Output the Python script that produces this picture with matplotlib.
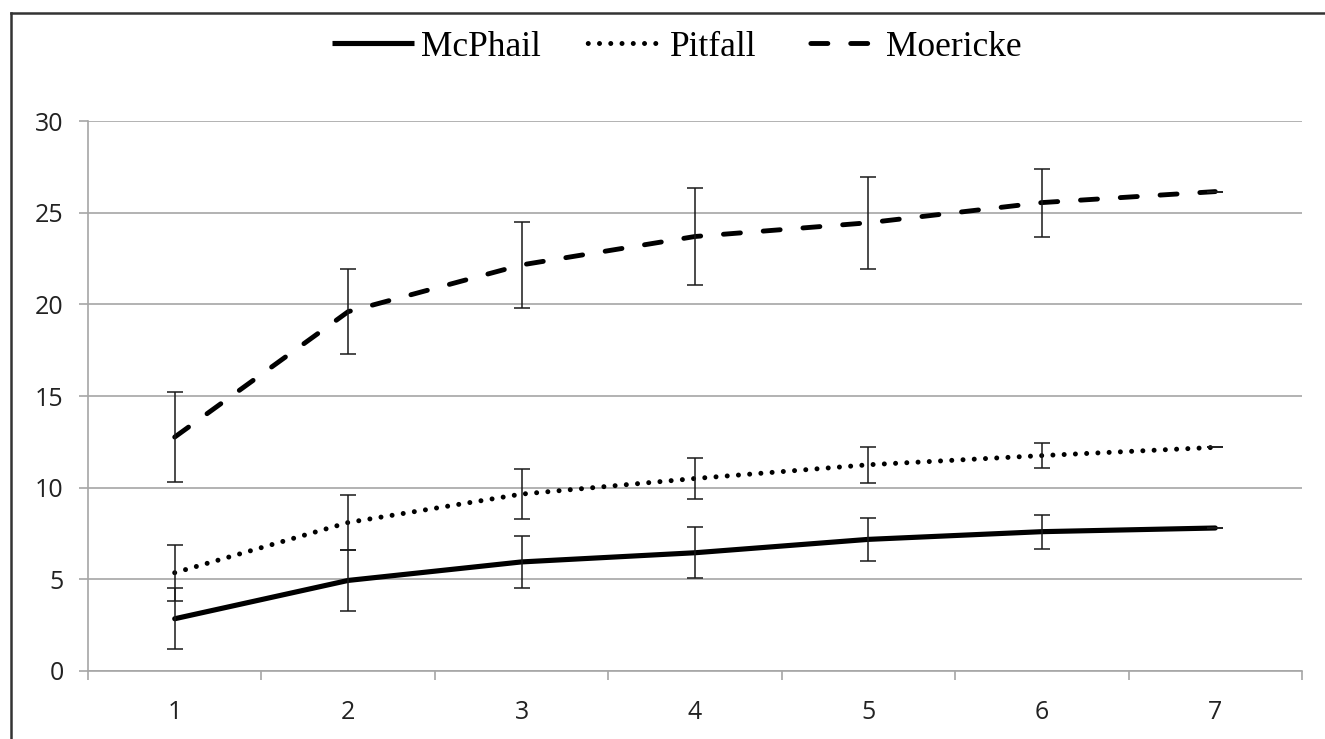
import numpy as np
import matplotlib
matplotlib.use('Agg')
import matplotlib.pyplot as plt
from matplotlib.lines import Line2D

# trap counts per sampling round
rounds = [1, 2, 3, 4, 5, 6, 7]
mcphail = [2.85, 4.94, 5.95, 6.45, 7.18, 7.6, 7.8]
mcphail_err = [1.67, 1.65, 1.4, 1.4, 1.18, 0.92, 0]
pitfall = [5.36, 8.1, 9.65, 10.5, 11.25, 11.75, 12.2]
pitfall_err = [1.53, 1.5, 1.38, 1.14, 0.98, 0.68, 0]
moericke = [12.76, 19.6, 22.15, 23.7, 24.45, 25.55, 26.15]
moericke_err = [2.45, 2.33, 2.35, 2.65, 2.5, 1.85, 0]

yticks = [0, 5, 10, 15, 20, 25, 30]

fig = plt.figure(figsize=(13.25, 7.39), dpi=100)
ax = fig.add_axes([88/1325, 1 - 671/739, (1302 - 88)/1325, (671 - 121)/739])

grid_col = '#a6a6a6'
err_col = '#1a1a1a'

dot_style = (0, (0.001, 2.25))
dash_style = (0, (3.5, 4.7))

# error bars first, lines on top
for vals, errs in [(mcphail, mcphail_err), (pitfall, pitfall_err), (moericke, moericke_err)]:
    ax.errorbar(rounds, vals, yerr=errs, fmt='none', ecolor=err_col,
                elinewidth=1.1, capsize=6, capthick=1.1, zorder=4)

ax.plot(rounds, mcphail, color='black', lw=3.7, solid_capstyle='round', zorder=3)
ax.plot(rounds, pitfall, color='black', lw=3.6, linestyle=dot_style,
        dash_capstyle='round', zorder=3)
ax.plot(rounds, moericke, color='black', lw=3.5, linestyle=dash_style,
        dash_capstyle='round', zorder=3)

ax.set_xlim(0.5, 7.5)
ax.set_ylim(0, 30)
ax.set_yticks(yticks)
ax.set_xticks(rounds)
ax.set_xticks(np.arange(0.5, 8.0, 1.0), minor=True)

ax.grid(axis='y', color=grid_col, lw=1.2)
ax.set_axisbelow(True)
for s in ['top', 'right']:
    ax.spines[s].set_visible(False)
for s in ['left', 'bottom']:
    ax.spines[s].set_color(grid_col)
    ax.spines[s].set_linewidth(1.2)

ax.tick_params(axis='x', which='major', length=0, pad=21, labelsize=18,
               labelcolor='#222222')
ax.tick_params(axis='x', which='minor', length=6.5, width=1.2, color=grid_col,
               direction='out')
ax.tick_params(axis='y', length=6.5, width=1.2, color=grid_col, pad=11,
               labelsize=18, labelcolor='#222222')
for lab in ax.get_xticklabels() + ax.get_yticklabels():
    lab.set_fontfamily('Open Sans')

# legend keys like Excel's: two dashes with gaps on both sides
handles = [
    Line2D([], [], color='black', lw=3.7, solid_capstyle='butt'),
    Line2D([], [], color='black', lw=3.6, linestyle=(1.1, (0.001, 2.25)),
           dash_capstyle='round'),
    Line2D([], [], color='black', lw=3.5, linestyle=(5.66, (3.5, 4.7)),
           dash_capstyle='round'),
]
fig.legend(handles, ['McPhail', 'Pitfall', 'Moericke'], loc='center',
           bbox_to_anchor=(0.511, 0.936), ncol=3, frameon=False,
           handlelength=2.3, handletextpad=0.2, columnspacing=1.15,
           prop={'family': 'Liberation Serif', 'size': 25.5})

# outer frame (only top and left edges visible in the crop)
fig.add_artist(Line2D([11/1325, 1.0], [1 - 13/739, 1 - 13/739],
                      transform=fig.transFigure, color='#333333', lw=1.8))
fig.add_artist(Line2D([11/1325, 11/1325], [0.0, 1 - 13/739],
                      transform=fig.transFigure, color='#333333', lw=1.8))

fig.savefig('out.png', dpi=100)
